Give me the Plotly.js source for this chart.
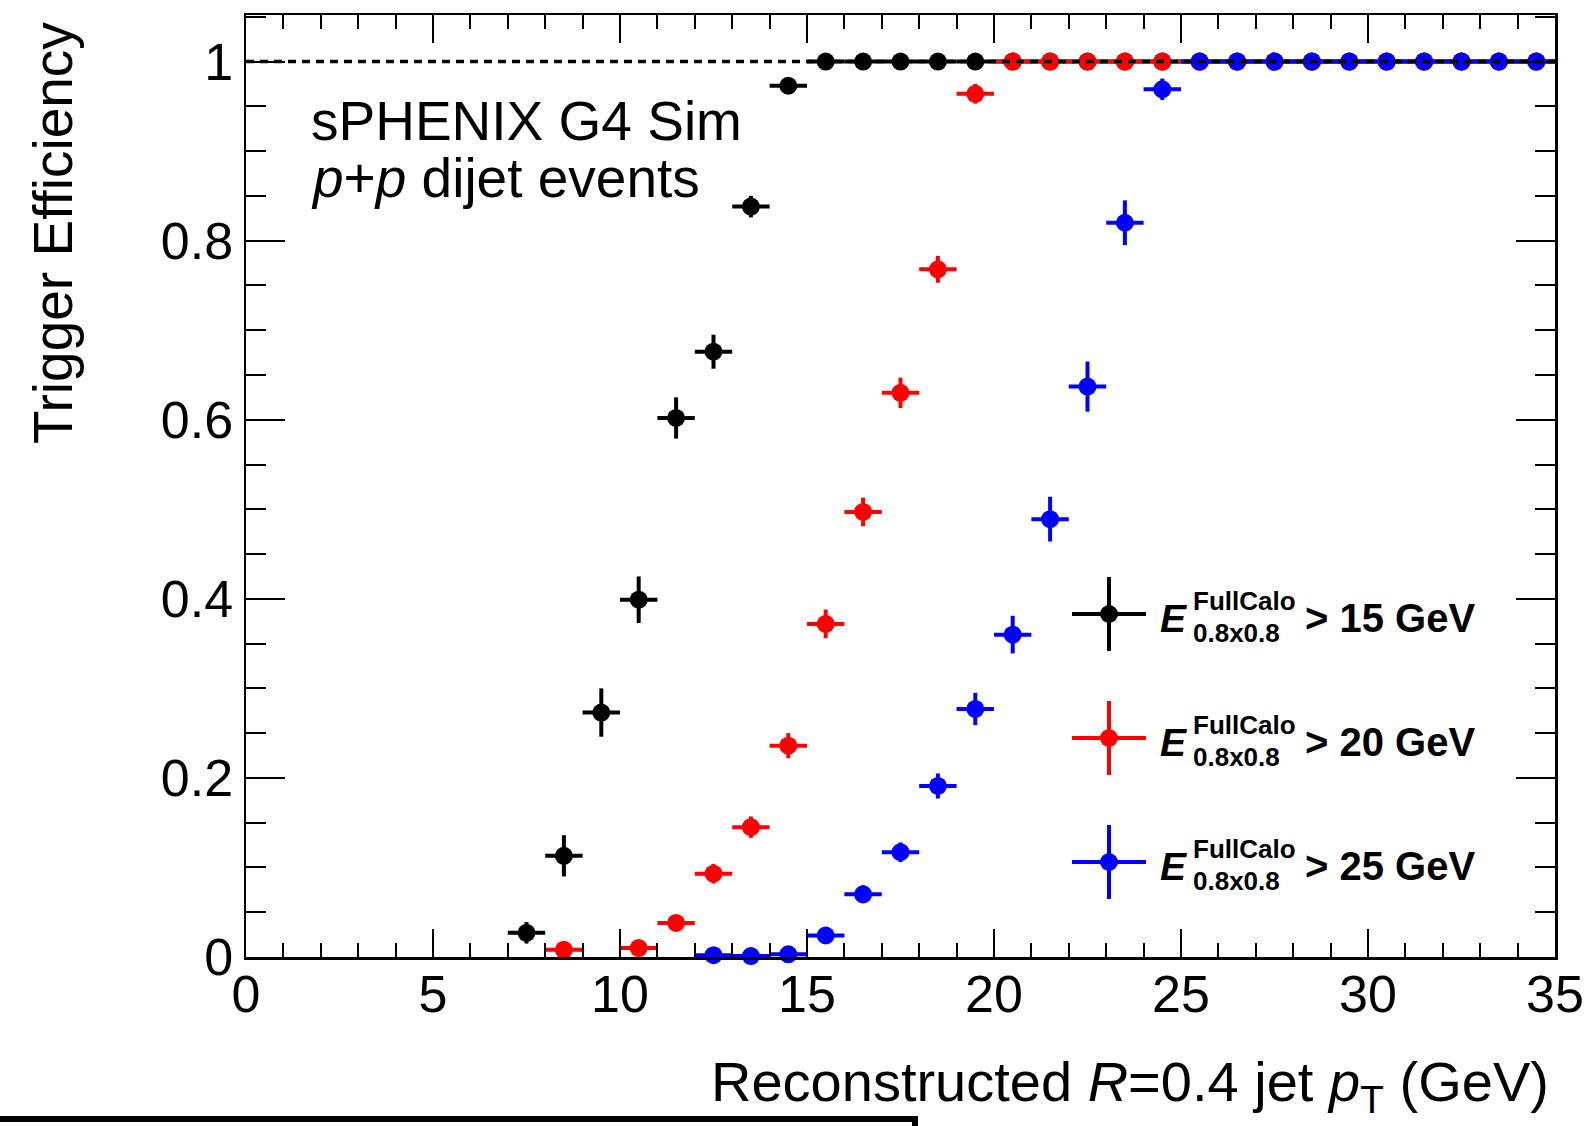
<!DOCTYPE html>
<html>
<head>
<meta charset="utf-8">
<script src="https://cdn.plot.ly/plotly-3.0.1.min.js"></script>
<style>
  html, body { margin: 0; padding: 0; background: #fff; }
  #chart { width: 1588px; height: 1126px; }
</style>
</head>
<body>
<div id="chart"></div>
<script>
// Reconstructed jet pT bin centres (GeV), 1 GeV wide bins
const ptBins = [7.5, 8.5, 9.5, 10.5, 11.5, 12.5, 13.5, 14.5, 15.5, 16.5, 17.5, 18.5, 19.5,
                20.5, 21.5, 22.5, 23.5, 24.5, 25.5, 26.5, 27.5, 28.5, 29.5, 30.5, 31.5,
                32.5, 33.5, 34.5];
const binHalfWidth = 0.5;

// Trigger efficiency, E(FullCalo, 0.8x0.8) > 15 GeV
const eff15 = [0.027, 0.113, 0.273, 0.399, 0.602, 0.676, 0.838, 0.973, 1, 1, 1, 1, 1,
               1, 1, 1, 1, 1, 1, 1, 1, 1, 1, 1, 1, 1, 1, 1];
const err15 = [0.012, 0.023, 0.027, 0.026, 0.023, 0.019, 0.012, 0.005, 0, 0, 0, 0, 0,
               0, 0, 0, 0, 0, 0, 0, 0, 0, 0, 0, 0, 0, 0, 0];

// Trigger efficiency, E(FullCalo, 0.8x0.8) > 20 GeV
const eff20 = [null, 0.008, null, 0.010, 0.038, 0.093, 0.145, 0.236, 0.372, 0.497, 0.630, 0.768, 0.964,
               1, 1, 1, 1, 1, 1, 1, 1, 1, 1, 1, 1, 1, 1, 1];
const err20 = [null, 0.004, null, 0.005, 0.009, 0.011, 0.012, 0.014, 0.016, 0.016, 0.017, 0.015, 0.011,
               0, 0, 0, 0, 0, 0, 0, 0, 0, 0, 0, 0, 0, 0, 0];

// Trigger efficiency, E(FullCalo, 0.8x0.8) > 25 GeV
const eff25 = [null, null, null, null, null, 0.002, 0.001, 0.003, 0.024, 0.070, 0.117, 0.191, 0.277,
               0.360, 0.489, 0.637, 0.820, 0.969, 1, 1, 1, 1, 1, 1, 1, 1, 1, 1];
const err25 = [null, null, null, null, null, 0.002, 0.002, 0.003, 0.006, 0.010, 0.011, 0.014, 0.018,
               0.021, 0.025, 0.028, 0.025, 0.012, 0, 0, 0, 0, 0, 0, 0, 0, 0, 0];

const thresholds = ['15', '20', '25'];
const seriesColors = ['#000000', '#ff0000', '#0000ff'];

const FONT = 'Liberation Sans, Arial, Helvetica, sans-serif';

// page geometry (pixels) used to place the frame and the free-standing text
const M = { l: 246, r: 33, t: 15, b: 169 };
const W = 1588, H = 1126;
const PW = W - M.l - M.r, PH = H - M.t - M.b;
const px = x => (x - M.l) / PW;
const py = y => (H - M.b - y) / PH;

function effTrace(y, err, color, name) {
  return {
    type: 'scatter', mode: 'markers', name: name,
    x: ptBins, y: y,
    marker: { symbol: 'circle', size: 18, color: color },
    error_x: { type: 'constant', value: binHalfWidth, color: color, thickness: 4, width: 0 },
    error_y: { type: 'data', array: err, symmetric: true, color: color, thickness: 4, width: 0 },
    cliponaxis: false,
    showlegend: false
  };
}

const data = [
  effTrace(eff15, err15, seriesColors[0], 'E > 15 GeV'),
  effTrace(eff20, err20, seriesColors[1], 'E > 20 GeV'),
  effTrace(eff25, err25, seriesColors[2], 'E > 25 GeV')
];

const shapes = [
  // efficiency = 1 reference line
  { type: 'line', xref: 'x', yref: 'y', x0: 0, x1: 35, y0: 1, y1: 1, layer: 'above',
    line: { color: '#000', width: 3.5, dash: '8px,6px' } },
  // box below the figure
  { type: 'rect', xref: 'paper', yref: 'paper', x0: px(-20), x1: px(915), y0: py(1119), y1: py(1170),
    line: { color: '#000', width: 6 }, fillcolor: 'rgba(0,0,0,0)', layer: 'above' }
];

const annotations = [
  { text: 'sPHENIX G4 Sim', xref: 'paper', yref: 'paper', x: px(309), y: py(121),
    xanchor: 'left', yanchor: 'middle', showarrow: false, font: { family: FONT, size: 55, color: '#000' } },
  { text: '<i>p</i>+<i>p</i> dijet events', xref: 'paper', yref: 'paper', x: px(309), y: py(178),
    xanchor: 'left', yanchor: 'middle', showarrow: false, font: { family: FONT, size: 55, color: '#000' } },
  { text: 'Reconstructed <i>R</i>=0.4 jet <i>p</i><sub>T</sub> (GeV)', xref: 'paper', yref: 'paper',
    x: px(1551), y: py(1085), xanchor: 'right', yanchor: 'middle', showarrow: false,
    font: { family: FONT, size: 56, color: '#000' } },
  { text: 'Trigger Efficiency', xref: 'paper', yref: 'paper', textangle: -90,
    x: px(53), y: py(20), xanchor: 'center', yanchor: 'top', showarrow: false,
    font: { family: FONT, size: 55, color: '#000' } }
];

// legend: error-bar cross glyph plus E^{FullCalo}_{0.8x0.8} > N GeV
const legendX = 1109, legendY = [614, 738, 862], arm = 37;
thresholds.forEach((thr, i) => {
  const yc = legendY[i], c = seriesColors[i];
  shapes.push(
    { type: 'line', xref: 'paper', yref: 'paper', x0: px(legendX - arm), x1: px(legendX + arm),
      y0: py(yc), y1: py(yc), line: { color: c, width: 4 } },
    { type: 'line', xref: 'paper', yref: 'paper', x0: px(legendX), x1: px(legendX),
      y0: py(yc - arm), y1: py(yc + arm), line: { color: c, width: 4 } },
    { type: 'circle', xref: 'paper', yref: 'paper', x0: px(legendX - 9), x1: px(legendX + 9),
      y0: py(yc - 9), y1: py(yc + 9), line: { color: c, width: 0 }, fillcolor: c }
  );
  annotations.push(
    { text: '<b><i>E</i></b>', xref: 'paper', yref: 'paper', x: px(1158), y: py(yc + 4),
      xanchor: 'left', yanchor: 'middle', showarrow: false, font: { family: FONT, size: 39, color: '#000' } },
    { text: '<b>FullCalo</b>', xref: 'paper', yref: 'paper', x: px(1191), y: py(yc - 13),
      xanchor: 'left', yanchor: 'middle', showarrow: false, font: { family: FONT, size: 26, color: '#000' } },
    { text: '<b>0.8x0.8</b>', xref: 'paper', yref: 'paper', x: px(1191), y: py(yc + 19),
      xanchor: 'left', yanchor: 'middle', showarrow: false, font: { family: FONT, size: 26, color: '#000' } },
    { text: '<b>> ' + thr + ' GeV</b>', xref: 'paper', yref: 'paper', x: px(1303), y: py(yc + 4),
      xanchor: 'left', yanchor: 'middle', showarrow: false, font: { family: FONT, size: 40, color: '#000' } }
  );
});

const axisCommon = {
  showline: true, linecolor: '#000', linewidth: 2.5, mirror: 'allticks',
  ticks: 'inside', tickwidth: 2, tickcolor: '#000',
  showgrid: false, zeroline: false,
  tickfont: { family: FONT, size: 52, color: '#000' }
};

const layout = {
  width: W, height: H,
  margin: M,
  paper_bgcolor: '#fff', plot_bgcolor: '#fff',
  showlegend: false,
  xaxis: Object.assign({}, axisCommon, {
    range: [0, 35], tickmode: 'linear', tick0: 0, dtick: 5, ticklen: 28,
    ticklabelstandoff: -10,
    minor: { ticks: 'inside', dtick: 1, tick0: 0, ticklen: 14, tickwidth: 2, tickcolor: '#000', showgrid: false }
  }),
  yaxis: Object.assign({}, axisCommon, {
    range: [0, 1.052], tickmode: 'linear', tick0: 0, dtick: 0.2, ticklen: 39,
    minor: { ticks: 'inside', dtick: 0.05, tick0: 0, ticklen: 20, tickwidth: 2, tickcolor: '#000', showgrid: false }
  }),
  shapes: shapes,
  annotations: annotations
};

Plotly.newPlot('chart', data, layout, { displayModeBar: false, staticPlot: true });
</script>
</body>
</html>
